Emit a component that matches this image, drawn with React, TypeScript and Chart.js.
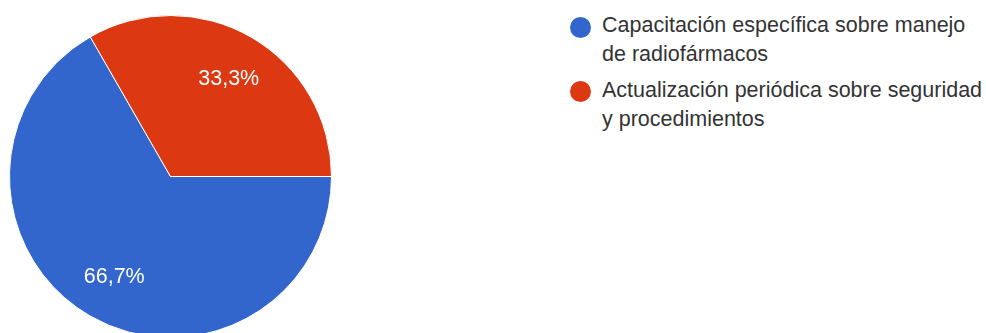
import React, { useEffect, useRef } from "react";
import { Chart, registerables } from "chart.js";

Chart.register(...registerables);

const categories = [
  "Capacitación específica sobre manejo de radiofármacos",
  "Actualización periódica sobre seguridad y procedimientos",
];
const legendLines = [
  ["Capacitación específica sobre manejo", "de radiofármacos"],
  ["Actualización periódica sobre seguridad", "y procedimientos"],
];
const values = [66.7, 33.3];
const valueLabels = ["66,7%", "33,3%"];
const colors = ["#3366cc", "#dc3912"];

const FONT = "'Liberation Sans', Arial, sans-serif";

const labelPlugin = {
  id: "sliceLabels",
  afterDatasetsDraw(chart: any) {
    const ctx = chart.ctx;
    const meta = chart.getDatasetMeta(0);
    ctx.save();
    ctx.fillStyle = "#ffffff";
    ctx.font = `21.5px ${FONT}`;
    ctx.textAlign = "center";
    ctx.textBaseline = "alphabetic";
    meta.data.forEach((arc: any, i: number) => {
      const p = arc.getProps(["x", "y", "startAngle", "endAngle", "outerRadius"], true);
      const mid = (p.startAngle + p.endAngle) / 2;
      const r = p.outerRadius * 0.71;
      ctx.fillText(valueLabels[i], p.x + Math.cos(mid) * r + 1, p.y + Math.sin(mid) * r + 7.5);
    });
    ctx.restore();
  },
};

export default function App() {
  const ref = useRef<HTMLCanvasElement>(null);
  useEffect(() => {
    if (!ref.current) return;
    const chart = new Chart(ref.current, {
      type: "pie",
      data: {
        labels: categories,
        datasets: [
          {
            data: values,
            backgroundColor: colors,
            borderColor: "#ffffff",
            borderWidth: 1,
          },
        ],
      },
      options: {
        animation: false,
        responsive: false,
        rotation: 90,
        plugins: {
          legend: { display: false },
          tooltip: { enabled: false },
        },
        layout: { padding: 0 },
      },
      plugins: [labelPlugin],
    });
    return () => chart.destroy();
  }, []);

  return (
    <div
      style={{
        position: "fixed",
        left: 0,
        top: 0,
        width: 986,
        height: 333,
        overflow: "hidden",
        background: "#ffffff",
        fontFamily: FONT,
      }}
    >
      <canvas
        ref={ref}
        width={323}
        height={323}
        style={{ position: "absolute", left: 8.5, top: 14.5, width: 323, height: 323 }}
      />
      <div style={{ position: "absolute", left: 570, top: 11 }}>
        {legendLines.map((lines, i) => (
          <div key={i} style={{ display: "flex", alignItems: "flex-start", marginBottom: 6.5 }}>
            <div
              style={{
                width: 21,
                height: 21,
                borderRadius: "50%",
                background: colors[i],
                marginTop: 5.5,
                marginRight: 11,
                flex: "none",
              }}
            />
            <div style={{ fontSize: 21.5, lineHeight: "29px", color: "#333333" }}>
              {lines.map((l, j) => (
                <div key={j} style={{ whiteSpace: "nowrap" }}>{l}</div>
              ))}
            </div>
          </div>
        ))}
      </div>
    </div>
  );
}
